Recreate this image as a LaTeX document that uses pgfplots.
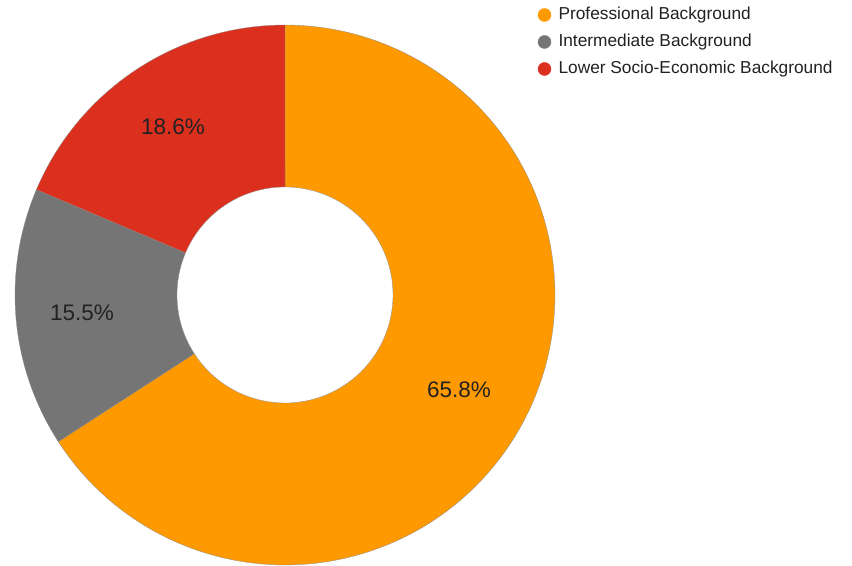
\documentclass[border=0pt]{standalone}
\usepackage{fontspec}
\setmainfont{Liberation Sans}
\usepackage{pgfplots}
\pgfplotsset{compat=1.18}
\definecolor{cProf}{HTML}{FF9900}
\definecolor{cInt}{HTML}{757575}
\definecolor{cLow}{HTML}{DC301F}
\definecolor{txt}{HTML}{222222}
\definecolor{edge}{HTML}{8A8A8A}

% shares in percent
\def\vProf{65.8}
\def\vInt{15.5}
\def\vLow{18.6}

\begin{document}
\begin{tikzpicture}
\pgfmathsetmacro{\tot}{\vProf+\vInt+\vLow}
\pgfmathsetmacro{\aA}{90}
\pgfmathsetmacro{\aB}{\aA-\vProf/\tot*360}
\pgfmathsetmacro{\aC}{\aB-\vInt/\tot*360}
\pgfmathsetmacro{\aD}{\aC-\vLow/\tot*360}
\begin{axis}[
  scale only axis,
  width=852pt, height=564pt,
  xmin=0, xmax=852, ymin=-564, ymax=0,
  hide axis, clip=false,
]
\addplot[draw=none, fill=white] coordinates {(0,0) (852,0) (852,-564) (0,-564)} -- cycle;

% wedges
\addplot[fill=cProf, draw=edge, line width=0.3pt, domain=\aA:\aB, samples=120, variable=\t]
  ({285+270*cos(t)}, {-295+270*sin(t)}) -- (285,-295) -- cycle;
\addplot[fill=cInt, draw=edge, line width=0.3pt, domain=\aB:\aC, samples=40, variable=\t]
  ({285+270*cos(t)}, {-295+270*sin(t)}) -- (285,-295) -- cycle;
\addplot[fill=cLow, draw=edge, line width=0.3pt, domain=\aC:\aD, samples=40, variable=\t]
  ({285+270*cos(t)}, {-295+270*sin(t)}) -- (285,-295) -- cycle;

% hole
\addplot[fill=white, draw=edge, line width=0.3pt, domain=0:360, samples=120, variable=\t]
  ({285+108*cos(t)}, {-295+108*sin(t)}) -- cycle;

% slice labels
\node[font=\fontsize{22.5}{26}\selectfont, text=txt] at (459,-390) {65.8\%};
\node[font=\fontsize{22.5}{26}\selectfont, text=txt] at (82,-313) {15.5\%};
\node[font=\fontsize{22.5}{26}\selectfont, text=txt] at (173,-127) {18.6\%};

% legend
\addplot[only marks, mark=*, mark size=6.5pt, cProf, mark options={fill=cProf}] coordinates {(544.5,-15)};
\addplot[only marks, mark=*, mark size=6.5pt, cInt, mark options={fill=cInt}] coordinates {(544.5,-42)};
\addplot[only marks, mark=*, mark size=6.5pt, cLow, mark options={fill=cLow}] coordinates {(544.5,-69)};
\node[anchor=west, font=\fontsize{17.3}{20}\selectfont, text=txt] at (555,-15) {Professional Background};
\node[anchor=west, font=\fontsize{17.3}{20}\selectfont, text=txt] at (555,-42) {Intermediate Background};
\node[anchor=west, font=\fontsize{17.3}{20}\selectfont, text=txt] at (555,-69) {Lower Socio-Economic Background};
\end{axis}
\end{tikzpicture}
\end{document}
